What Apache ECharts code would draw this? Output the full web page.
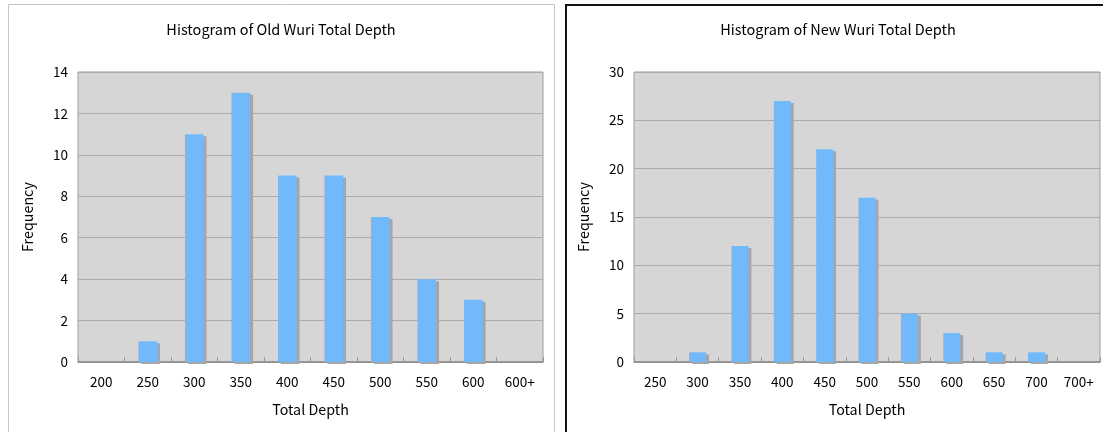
<!DOCTYPE html>
<html>
<head>
<meta charset="utf-8">
<script src="https://cdn.jsdelivr.net/npm/echarts@6/dist/echarts.min.js"></script>
<style>
html,body{margin:0;padding:0;background:#fff;}
#c{width:1103px;height:432px;}
</style>
</head>
<body>
<div id="c"></div>
<script>
const oldCategories = ['200','250','300','350','400','450','500','550','600','600+'];
const oldValues = [0,1,11,13,9,9,7,4,3,0];
const newCategories = ['250','300','350','400','450','500','550','600','650','700','700+'];
const newValues = [0,1,12,27,22,17,5,3,1,1,0];
const oldTitle = 'Histogram of Old Wuri Total Depth';
const newTitle = 'Histogram of New Wuri Total Depth';
const xName = 'Total Depth';
const yName = 'Frequency';

const FONT = '"Noto Sans CJK JP", "Liberation Sans", sans-serif';
const chart = echarts.init(document.getElementById('c'), null, {renderer:'canvas'});

function xAx(idx, cats){
  return {
    type:'category', gridIndex:idx, data:cats,
    name:xName, nameLocation:'middle', nameGap:40,
    nameTextStyle:{color:'#000', fontSize:14.3, fontFamily:FONT},
    axisLine:{show:true, lineStyle:{color:'#8c8c8c', width:1.5}},
    axisTick:{show:true, inside:true, length:5, lineStyle:{color:'#999'}},
    axisLabel:{color:'#000', fontSize:13.5, fontFamily:FONT, margin:13},
    splitLine:{show:false}
  };
}
function yAx(idx, max, interval){
  return {
    type:'value', gridIndex:idx, min:0, max:max, interval:interval,
    name:yName, nameLocation:'middle', nameGap:43,
    nameTextStyle:{color:'#000', fontSize:14.3, fontFamily:FONT},
    axisLine:{show:false}, axisTick:{show:false},
    axisLabel:{color:'#000', fontSize:13.5, fontFamily:FONT, margin:10},
    splitLine:{show:true, lineStyle:{color:'#ababab', width:1}}
  };
}
function barSeries(idx, vals){
  return {
    type:'bar', xAxisIndex:idx, yAxisIndex:idx, data:vals,
    barWidth:'40%',
    itemStyle:{color:'#72b9fb', shadowColor:'#a6a6a6', shadowBlur:0, shadowOffsetX:3, shadowOffsetY:2},
    emphasis:{disabled:true}, animation:false
  };
}

chart.setOption({
  animation:false,
  textStyle:{fontFamily:FONT},
  graphic:[
    {type:'rect', shape:{x:8.5, y:4.5, width:546, height:440}, style:{fill:null, stroke:'#c4c4c4', lineWidth:1}, z:-10},
    {type:'rect', shape:{x:566, y:5, width:545, height:440}, style:{fill:null, stroke:'#111', lineWidth:2}, z:-10}
  ],
  title:[
    {text:oldTitle, left:276, top:17, textAlign:'center', textStyle:{fontSize:14.5, fontWeight:'normal', color:'#000', fontFamily:FONT}},
    {text:newTitle, left:833, top:17, textAlign:'center', textStyle:{fontSize:14.5, fontWeight:'normal', color:'#000', fontFamily:FONT}}
  ],
  grid:[
    {left:78, top:72, width:465, height:290, show:true, backgroundColor:'#d6d6d6', borderColor:'#9d9d9d', borderWidth:1, containLabel:false},
    {left:634, top:72, width:466, height:290, show:true, backgroundColor:'#d6d6d6', borderColor:'#9d9d9d', borderWidth:1, containLabel:false}
  ],
  xAxis:[xAx(0, oldCategories), xAx(1, newCategories)],
  yAxis:[yAx(0, 14, 2), yAx(1, 30, 5)],
  series:[barSeries(0, oldValues), barSeries(1, newValues)]
});
</script>
</body>
</html>
